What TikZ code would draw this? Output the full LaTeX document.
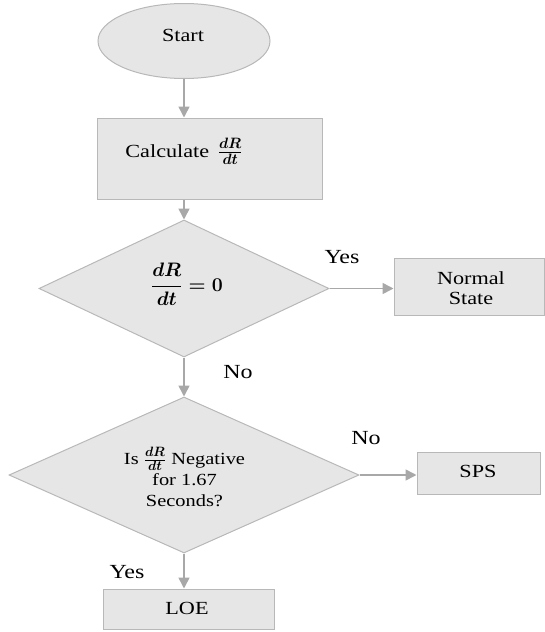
\RequirePackage{fix-cm}
\documentclass[tikz,border=0pt]{standalone}
\usepackage{fontspec}
\setmainfont{Liberation Serif}[FakeStretch=1.2]
\usetikzlibrary{shapes.geometric,arrows.meta}
\definecolor{boxfill}{HTML}{E6E6E6}
\definecolor{boxline}{HTML}{B8B8B8}
\definecolor{arrline}{HTML}{A8A8A8}
\DeclareMathSizes{18.5}{19.5}{15}{11}
\DeclareMathSizes{17}{17}{13.5}{10}
\begin{document}
\begin{tikzpicture}[x=1pt,y=-1pt,
  shapebox/.style={draw=boxline,fill=boxfill,line width=1pt,inner sep=0pt},
  txt/.style={font=\fontsize{18.5}{20}\selectfont,inner sep=0pt},
  smalltxt/.style={font=\fontsize{17}{21}\selectfont,inner sep=0pt},
  lbl/.style={font=\fontsize{20}{22}\selectfont,inner sep=0pt},
  arr/.style={draw=arrline,line width=1.6pt,-{Triangle[length=11pt,width=11pt]}}
]
\useasboundingbox (0,0) rectangle (545,632);
% shapes
\node[shapebox,ellipse,minimum width=172pt,minimum height=75pt] (start) at (184,41) {};
\node[txt,anchor=base] (starttxt) at (183,41) {Start};

\node[shapebox,rectangle,minimum width=225pt,minimum height=81pt] (calc) at (209.5,158.5) {};
\node[txt,anchor=base] (calctxt) at (184,157) {Calculate\, {\boldmath$\frac{dR}{dt}$}};

\node[shapebox,diamond,minimum width=290pt,minimum height=137pt] (d1) at (184,288.5) {};
\node[txt,anchor=base] (d1txt) at (187,291) {{\boldmath$\displaystyle\frac{dR}{dt}=0$}};

\node[shapebox,rectangle,minimum width=150pt,minimum height=57pt] (normal) at (469,286.5) {};
\node[txt,align=center] (normaltxt) at (471,288) {Normal\\State};

\node[shapebox,diamond,minimum width=350pt,minimum height=156pt] (d2) at (184,475) {};
\node[smalltxt,align=center] (d2txt) at (184.5,477) {Is {\boldmath$\frac{dR}{dt}$} Negative\\for 1.67\\Seconds?};

\node[shapebox,rectangle,minimum width=123pt,minimum height=42pt] (sps) at (478.5,473) {};
\node[txt,anchor=base] (spstxt) at (478,477) {SPS};

\node[shapebox,rectangle,minimum width=171pt,minimum height=40pt] (loe) at (188.5,609) {};
\node[txt,anchor=base] (loetxt) at (187,614) {LOE};

% labels
\node[lbl,anchor=base] (yes1) at (342,263) {Yes};
\node[lbl,anchor=base] (no1) at (238,378) {No};
\node[lbl,anchor=base] (no2) at (366,444) {No};
\node[lbl,anchor=base] (yes2) at (127,578) {Yes};

% connectors
\draw[arr] (start.south) -- (start.south |- calc.north);
\draw[arr] (calc.south -| d1.north) -- (d1.north);
\draw[arr] (d1.east) -- (d1.east -| normal.west);
\draw[arr] (d1.south) -- (d2.north);
\draw[arr] (d2.east) -- (d2.east -| sps.west);
\draw[arr] (d2.south) -- (d2.south |- loe.north);
\end{tikzpicture}
\end{document}
